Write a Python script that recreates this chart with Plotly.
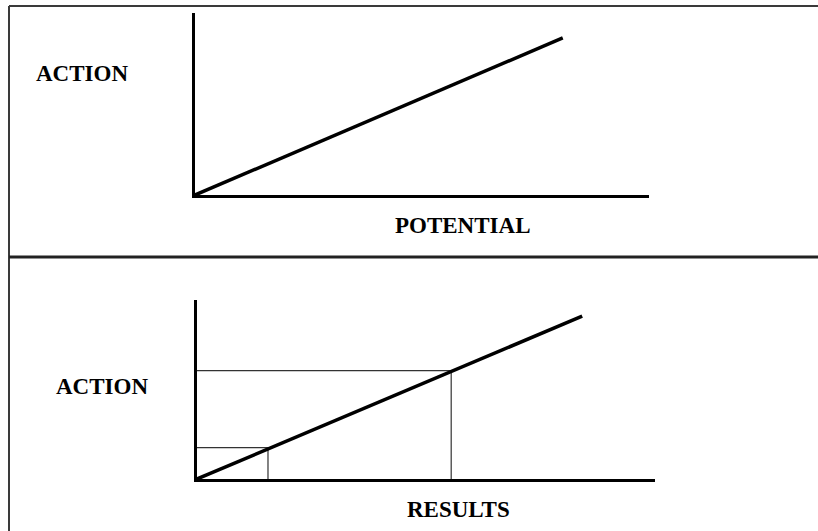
import plotly.graph_objects as go

W, H = 818, 531

# ---- data (conceptual units) ----
top_potential = [0, 8.1]
top_action = [0, 8.63]

bottom_results = [0, 8.41]
bottom_action = [0, 9.1]

# reference points dropped onto the axes in the lower panel
ref_results = [1.55, 5.55]
ref_action = [1.75, 6.05]

labels = {"top_y": "ACTION", "top_x": "POTENTIAL", "bot_y": "ACTION", "bot_x": "RESULTS"}

FONT = "Liberation Serif"
FS = 23

def px_x(p):
    return p / W

def px_y(p):
    return 1 - p / H

fig = go.Figure()

# top panel
fig.add_trace(go.Scatter(x=top_potential, y=top_action, mode="lines",
                         line=dict(color="black", width=3.5),
                         xaxis="x", yaxis="y", hoverinfo="skip", showlegend=False))

# bottom panel reference lines
for rx, ry in zip(ref_results, ref_action):
    fig.add_trace(go.Scatter(x=[0, rx, rx], y=[ry, ry, 0], mode="lines",
                             line=dict(color="#333333", width=1.2),
                             xaxis="x2", yaxis="y2", hoverinfo="skip", showlegend=False))

fig.add_trace(go.Scatter(x=bottom_results, y=bottom_action, mode="lines",
                         line=dict(color="black", width=3.5),
                         xaxis="x2", yaxis="y2", hoverinfo="skip", showlegend=False))

axis_common = dict(showgrid=False, zeroline=False, showticklabels=False, ticks="",
                   showline=True, linecolor="black", linewidth=3, fixedrange=True)

fig.update_layout(
    width=W, height=H, autosize=False,
    margin=dict(l=0, r=0, t=0, b=0, pad=0),
    paper_bgcolor="white", plot_bgcolor="white",
    xaxis=dict(domain=[px_x(195), px_x(649)], range=[0, 10], anchor="y", **axis_common),
    yaxis=dict(domain=[px_y(195), px_y(13)], range=[0, 10], anchor="x", **axis_common),
    xaxis2=dict(domain=[px_x(197), px_x(655)], range=[0, 10], anchor="y2", **axis_common),
    yaxis2=dict(domain=[px_y(479), px_y(300)], range=[0, 10], anchor="x2", **axis_common),
    showlegend=False,
)

# frame: top border, left border, divider
border = dict(color="#3a3a3a", width=2)
fig.add_shape(type="line", xref="paper", yref="paper", x0=px_x(9), x1=1, y0=px_y(6), y1=px_y(6), line=border)
fig.add_shape(type="line", xref="paper", yref="paper", x0=px_x(9), x1=px_x(9), y0=px_y(6), y1=0, line=border)
fig.add_shape(type="line", xref="paper", yref="paper", x0=px_x(9), x1=1, y0=px_y(257), y1=px_y(257), line=dict(color="#222222", width=3))

def label(text, cx, cy):
    fig.add_annotation(text=text, xref="paper", yref="paper", x=px_x(cx), y=px_y(cy),
                       xanchor="center", yanchor="middle", showarrow=False,
                       font=dict(family=FONT, size=FS, color="black"))

label(f"<b>{labels['top_y']}</b>", 82, 73)
label(f"<b>{labels['top_x']}</b>", 462.5, 225)
label(f"<b>{labels['bot_y']}</b>", 101.5, 387)
label(f"<b>{labels['bot_x']}</b>", 458.5, 509)

fig.write_html("out.html", config={"displayModeBar": False},
               post_script="document.body.style.margin='0';document.body.style.overflow='hidden';")
